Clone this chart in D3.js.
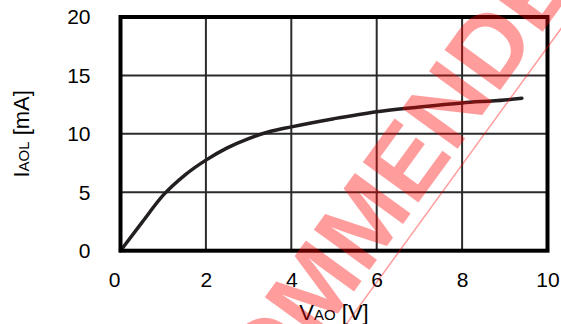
<!DOCTYPE html>
<html>
<head>
<meta charset="utf-8">
<script src="https://cdn.jsdelivr.net/npm/d3@7"></script>
<style>
  html, body { margin: 0; padding: 0; background: #fff; }
  svg { display: block; font-family: "Liberation Sans", Arial, sans-serif; }
</style>
</head>
<body>
<svg id="chart" width="561" height="324"></svg>
<script>
// Output voltage V_AO [V] and output current I_AOL [mA]
const vao = [0, 0.5, 1, 1.5, 2, 2.5, 3, 3.5, 4, 5, 6, 7, 8, 9, 9.4];
const iaol = [0, 2.4, 4.75, 6.45, 7.75, 8.8, 9.6, 10.2, 10.6, 11.3, 11.9, 12.3, 12.65, 12.9, 13.05];

const xTicks = [0, 2, 4, 6, 8, 10];
const yTicks = [0, 5, 10, 15, 20];
const watermarkText = "NOT RECOMMENDED";

(function draw() {
  const svg = d3.select("#chart");
  const W = 561, H = 324;
  const plotL = 120.5, plotR = 547.5, plotT = 17, plotB = 250.7;

  const x = d3.scaleLinear().domain([0, 10]).range([plotL, plotR]);
  const y = d3.scaleLinear().domain([0, 20]).range([plotB, plotT]);

  svg.append("rect").attr("width", W).attr("height", H).attr("fill", "#fff");

  // grid
  const grid = svg.append("g").attr("stroke", "#2b2b2b").attr("stroke-width", 2);
  grid.selectAll("line.v").data(xTicks.filter(d => d > 0 && d < 10)).join("line")
    .attr("class", "v")
    .attr("x1", d => x(d)).attr("x2", d => x(d)).attr("y1", plotT).attr("y2", plotB);
  grid.selectAll("line.h").data(yTicks.filter(d => d > 0 && d < 20)).join("line")
    .attr("class", "h")
    .attr("y1", d => y(d)).attr("y2", d => y(d)).attr("x1", plotL).attr("x2", plotR);

  // curve
  const pts = vao.map((v, i) => [v, iaol[i]]);
  svg.append("path")
    .datum(pts)
    .attr("fill", "none")
    .attr("stroke", "#231f20")
    .attr("stroke-width", 3.5)
    .attr("stroke-linecap", "round")
    .attr("d", d3.line().x(d => x(d[0])).y(d => y(d[1])).curve(d3.curveMonotoneX));

  // frame
  svg.append("rect")
    .attr("x", plotL).attr("y", plotT)
    .attr("width", plotR - plotL).attr("height", plotB - plotT)
    .attr("fill", "none").attr("stroke", "#000").attr("stroke-width", 4);

  // axes (labels only)
  const xAxis = svg.append("g").attr("transform", `translate(0,${plotB})`)
    .call(d3.axisBottom(x).tickValues(xTicks).tickSize(0).tickPadding(21).tickFormat(d3.format("d")));
  const yAxis = svg.append("g").attr("transform", `translate(${plotL},0)`)
    .call(d3.axisLeft(y).tickValues(yTicks).tickSize(0).tickPadding(30).tickFormat(d3.format("d")));
  [xAxis, yAxis].forEach(a => {
    a.select(".domain").remove();
    a.selectAll("text").attr("font-size", 21).attr("fill", "#000")
      .attr("font-family", "'Liberation Sans', Arial, sans-serif");
  });
  // the origin label sits just left of the corner
  xAxis.selectAll(".tick").filter(d => d === 0).select("text").attr("dx", -6.5);

  // axis titles
  const xt = svg.append("text")
    .attr("x", (plotL + plotR) / 2).attr("y", 320)
    .attr("text-anchor", "middle").attr("fill", "#000");
  xt.append("tspan").attr("font-size", 22).text("V");
  xt.append("tspan").attr("font-size", 15).text("AO");
  xt.append("tspan").attr("font-size", 22).text(" [V]");

  const yt = svg.append("text")
    .attr("transform", `translate(28.5,${(plotT + plotB) / 2}) rotate(-90)`)
    .attr("text-anchor", "middle").attr("fill", "#000");
  yt.append("tspan").attr("font-size", 22).text("I");
  yt.append("tspan").attr("font-size", 15).text("AOL");
  yt.append("tspan").attr("font-size", 22).text(" [mA]");

  // diagonal watermark with its rule underneath
  const wm = svg.append("g")
    .attr("transform", "translate(620.3,-75.1) rotate(-54)")
    .attr("opacity", 0.38);
  wm.append("text")
    .attr("text-anchor", "end")
    .attr("font-size", 100)
    .attr("font-weight", "bold")
    .attr("fill", "#ff0000")
    .text(watermarkText);
  wm.append("line")
    .attr("x1", -1200).attr("x2", 100).attr("y1", 13).attr("y2", 13)
    .attr("stroke", "#ff0000").attr("stroke-width", 1.5);
})();
</script>
</body>
</html>
